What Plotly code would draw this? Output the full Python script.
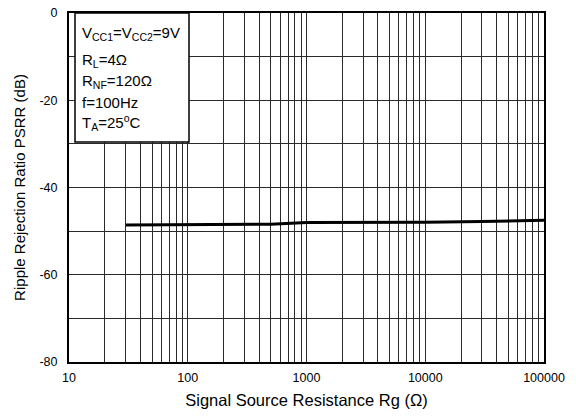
import plotly.graph_objects as go

# Ripple rejection vs. signal source resistance
rg_ohm = [30, 100, 300, 500, 1000, 3000, 10000, 30000, 100000]
psrr_db = [-48.6, -48.5, -48.45, -48.4, -48.0, -48.0, -47.95, -47.8, -47.5]

x_ticks = [10, 100, 1000, 10000, 100000]
x_tick_text = ["10", "100", "1000", "10000", "100000"]
y_ticks = [0, -20, -40, -60, -80]
y_tick_text = ["0", "-20", "-40", "-60", "-80"]

conditions = [
    "V<sub>CC1</sub>=V<sub>CC2</sub>=9V",
    "R<sub>L</sub>=4Ω",
    "R<sub>NF</sub>=120Ω",
    "f=100Hz",
    "T<sub>A</sub>=25<sup>o</sup>C",
]
# vertical offsets (px from plot top) of each condition line
cond_offsets = [20, 48, 68, 90, 109]

minor_vals = [m * 10 ** d for d in range(1, 5) for m in range(2, 10)]

font = "Liberation Sans, Arial, sans-serif"
grid = "#2a2a2a"

fig = go.Figure()
fig.add_trace(go.Scatter(
    x=rg_ohm, y=psrr_db, mode="lines",
    line=dict(color="black", width=3),
    showlegend=False,
))

fig.update_layout(
    width=576, height=418,
    margin=dict(l=69, r=32, t=13, b=56),
    paper_bgcolor="white", plot_bgcolor="white",
    font=dict(family=font, color="black", size=12.5),
    xaxis=dict(
        type="log", range=[1, 5], automargin=False,
        tickvals=x_ticks, ticktext=x_tick_text,
        showgrid=True, gridcolor=grid, gridwidth=1,
        minor=dict(tickvals=minor_vals, showgrid=True, gridcolor=grid, gridwidth=1, ticks=""),
        showline=True, linecolor="black", linewidth=2, mirror=True,
        ticks="", zeroline=False, ticklabelstandoff=3,
        title=dict(text="Signal Source Resistance Rg (Ω)", font=dict(size=16.5), standoff=10),
    ),
    yaxis=dict(
        range=[-80, 0], automargin=False,
        tickvals=y_ticks, ticktext=y_tick_text,
        showgrid=True, gridcolor=grid, gridwidth=1,
        minor=dict(dtick=10, showgrid=True, gridcolor=grid, gridwidth=1, ticks=""),
        showline=True, linecolor="black", linewidth=2, mirror=True,
        ticks="", zeroline=False, ticklabelstandoff=7,
        title=dict(text="Ripple Rejection Ratio PSRR (dB)", font=dict(size=15), standoff=10),
    ),
)

# Test-condition legend box
fig.add_shape(
    type="rect", xref="paper", yref="paper",
    x0=6 / 475, x1=120 / 475, y0=1 - 129 / 349, y1=1,
    fillcolor="white", line=dict(color="black", width=1.5), layer="above",
)
for txt, off in zip(conditions, cond_offsets):
    fig.add_annotation(
        xref="paper", yref="paper",
        x=11 / 475, y=1 - off / 349,
        text=txt, showarrow=False, xanchor="left", yanchor="middle",
        font=dict(size=15, family=font, color="black"),
    )

fig.write_html("out.html")
